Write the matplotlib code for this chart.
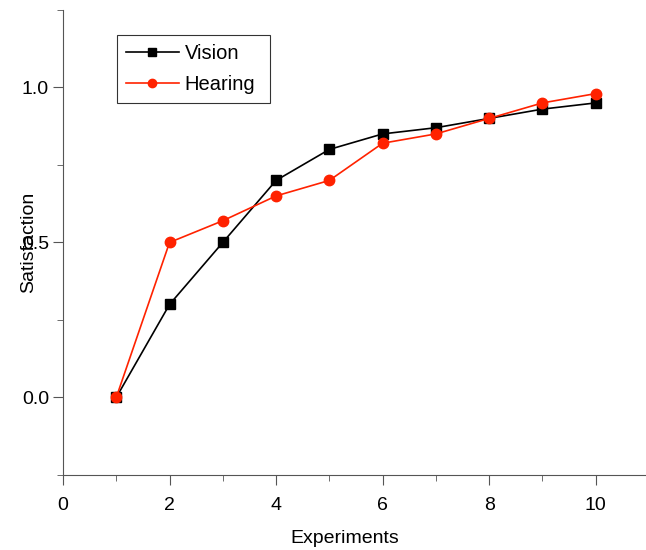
import numpy as np
import matplotlib.pyplot as plt
from matplotlib.ticker import MultipleLocator

plt.rcParams['font.family'] = ['Liberation Sans', 'DejaVu Sans']

experiments = [1, 2, 3, 4, 5, 6, 7, 8, 9, 10]
vision = [0.0, 0.30, 0.50, 0.70, 0.80, 0.85, 0.87, 0.90, 0.93, 0.95]
hearing = [0.0, 0.50, 0.57, 0.65, 0.70, 0.82, 0.85, 0.90, 0.95, 0.98]

fig = plt.figure(figsize=(6.46, 5.5), dpi=100)
ax = fig.add_axes([0.0975, 0.1364, 0.9005, 0.8456])

ax.plot(experiments, vision, color='black', marker='s', markersize=6.5, lw=1.2,
        label='Vision')
ax.plot(experiments, hearing, color='#ff2200', marker='o', markersize=7.5, lw=1.2,
        label='Hearing')

ax.set_xlim(0, 10.92)
ax.set_ylim(-0.25, 1.25)
ax.xaxis.set_major_locator(MultipleLocator(2))
ax.xaxis.set_minor_locator(MultipleLocator(1))
ax.yaxis.set_major_locator(MultipleLocator(0.5))
ax.yaxis.set_minor_locator(MultipleLocator(0.25))
ax.yaxis.set_major_formatter(plt.FormatStrFormatter('%.1f'))

for side in ['top', 'right']:
    ax.spines[side].set_visible(False)
for side in ['left', 'bottom']:
    ax.spines[side].set_color('#555555')
ax.tick_params(which='major', length=7, color='#555555', labelsize=14)
ax.tick_params(which='minor', length=4, color='#555555')
ax.tick_params(axis='x', which='major', pad=9)
ax.tick_params(axis='y', which='major', pad=3)

ax.set_xlabel('Experiments', fontsize=14)
ax.set_ylabel('Satisfaction', fontsize=14)
ax.xaxis.set_label_coords(0.485, -0.118)
ax.yaxis.set_label_coords(-0.045, 0.5)

leg = ax.legend(loc='upper left', bbox_to_anchor=(0.093, 0.80, 0.263, 0.146),
                mode='expand', fontsize=14.5,
                frameon=True, fancybox=False, edgecolor='black',
                borderaxespad=0, handlelength=2.6, handletextpad=0.3,
                borderpad=0.45, labelspacing=0.6, markerscale=0.8)
leg.get_frame().set_linewidth(0.8)

fig.savefig('out.png', dpi=100)
